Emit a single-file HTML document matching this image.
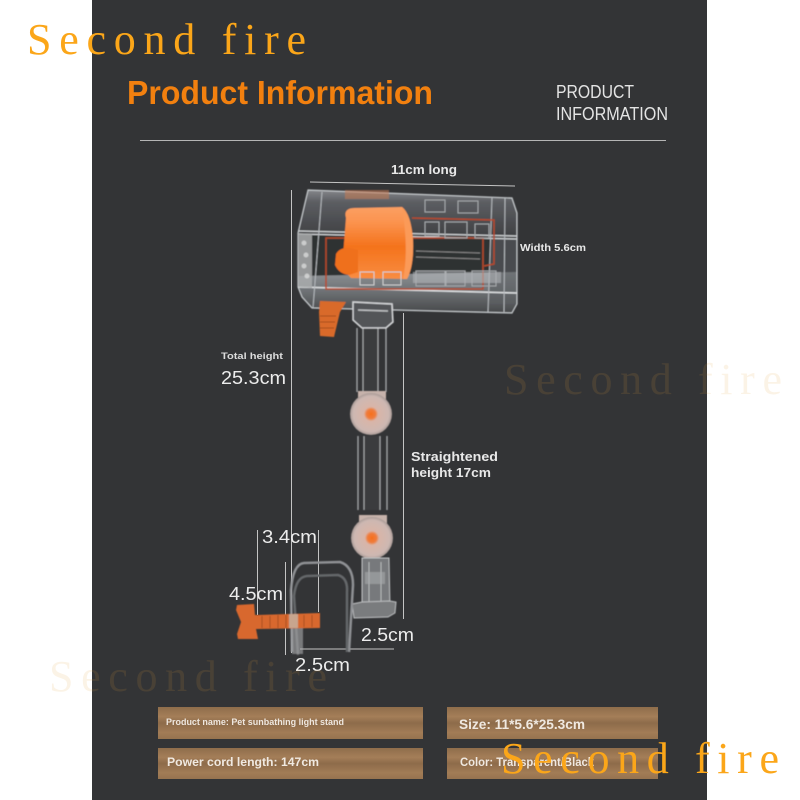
<!DOCTYPE html>
<html><head><meta charset="utf-8">
<style>
html,body{margin:0;padding:0;background:#fff}
svg{display:block}
text{font-family:"Liberation Sans",sans-serif}
.wm{font-family:"Liberation Serif",serif}
</style></head>
<body>
<svg width="800" height="800" viewBox="0 0 800 800" xmlns="http://www.w3.org/2000/svg">
<defs>
<linearGradient id="wood" x1="0" y1="0" x2="0" y2="1">
<stop offset="0" stop-color="#8f6d4b"/><stop offset=".3" stop-color="#a47e58"/><stop offset=".5" stop-color="#8d6b4a"/><stop offset=".8" stop-color="#a27c56"/><stop offset="1" stop-color="#96734f"/>
</linearGradient>
<linearGradient id="top" x1="0" y1="0" x2="0" y2="1">
<stop offset="0" stop-color="#85878b"/><stop offset=".25" stop-color="#5c5e62"/><stop offset="1" stop-color="#3e3f42"/>
</linearGradient>
<linearGradient id="low" x1="0" y1="0" x2="0" y2="1">
<stop offset="0" stop-color="#a4a9ad"/><stop offset=".5" stop-color="#7b7f83"/><stop offset="1" stop-color="#4c4e50"/>
</linearGradient>
<linearGradient id="orange" x1="0" y1="0" x2="0" y2="1">
<stop offset="0" stop-color="#fb9f62"/><stop offset=".2" stop-color="#fb9450"/><stop offset=".55" stop-color="#f4731c"/><stop offset="1" stop-color="#f98d42"/>
</linearGradient>
<radialGradient id="knob"><stop offset="0" stop-color="#f76f1c"/><stop offset=".22" stop-color="#ee7d3e"/><stop offset=".34" stop-color="#d9b5a8"/><stop offset=".85" stop-color="#cdb8b2"/><stop offset="1" stop-color="#a89a96"/></radialGradient>
<filter id="soft" x="-5%" y="-5%" width="110%" height="110%"><feGaussianBlur stdDeviation="0.6"/></filter>
</defs>
<rect width="800" height="800" fill="#fff"/>
<rect x="92" y="0" width="615" height="800" fill="#333436"/>

<!-- header -->
<text x="127" y="104" font-size="33" font-weight="bold" fill="#f2800f" textLength="306" lengthAdjust="spacingAndGlyphs">Product Information</text>
<text x="556" y="98" font-size="18" fill="#e4e4e4" textLength="78" lengthAdjust="spacingAndGlyphs">PRODUCT</text>
<text x="556" y="120" font-size="18" fill="#e4e4e4" textLength="112" lengthAdjust="spacingAndGlyphs">INFORMATION</text>
<rect x="140" y="140" width="526" height="1" fill="#b5b5b5"/>

<!-- dimension lines -->
<g stroke="#c4c4c4" stroke-width="1" fill="none">
<line x1="310" y1="182" x2="515" y2="186"/>
<line x1="291.500" y1="190" x2="291.500" y2="653"/>
<line x1="403.500" y1="313" x2="403.500" y2="619"/>
<line x1="257.500" y1="530" x2="257.500" y2="615"/>
<line x1="318.500" y1="530" x2="318.500" y2="612"/>
<line x1="285.500" y1="562" x2="285.500" y2="655"/>
<line x1="300" y1="649" x2="394" y2="649"/>
<line x1="506" y1="256" x2="514" y2="243"/>
</g>

<g filter="url(#soft)">
<!-- lamp box -->
<path d="M308 190 L512 198 L517 213 L517 304 L512 313 L312 308 L302 297 L298 287 L298 233 Z" fill="#2f3032"/>
<path d="M308 190 L512 198 L517 213 L517 238 L298 233 Z" fill="url(#top)"/>
<path d="M298 276 L517 272 L517 304 L512 313 L312 308 L302 297 L298 287 Z" fill="url(#low)" opacity=".8"/>
<path d="M490 236 L517 238 L517 304 L490 304 Z" fill="#5c5f62" opacity=".6"/>
<path d="M308 190 L512 198 L517 213 L517 304 L512 313 L312 308 L302 297 L298 287 L298 233 Z" fill="none" stroke="#c5c9cc" stroke-width="1.200"/>
<path d="M298 231 L517 236 M298 234 L517 239" stroke="#d3d6d8" stroke-width="1.200" fill="none"/>
<path d="M298 287 L517 293" stroke="#dfe1e3" stroke-width="1.500" fill="none"/>
<path d="M322 192 L313 308 M492 197 L488 312 M505 198 L504 312" stroke="#b8bcc0" stroke-width="1" fill="none"/>
<path d="M298 233 L312 234 L312 288 L298 287 Z" fill="#a9abad" opacity=".85"/>
<g fill="#e2e2e2" opacity=".7"><circle cx="304" cy="243" r="2.500"/><circle cx="306" cy="255" r="2.500"/><circle cx="304" cy="266" r="2.500"/><circle cx="307" cy="276" r="2.500"/></g>
<!-- inner red circuit -->
<g fill="none" stroke="#b8482a" stroke-width="1.500">
<rect x="326" y="238" width="157" height="51"/>
<path d="M412 218 L494 220 L494 264 L484 266"/>
</g>
<path d="M416 251 L480 253 M416 257 L480 259" stroke="#8a8a8a" fill="none"/>
<g fill="none" stroke="#a5a8ab" stroke-width="1">
<path d="M425 200h20v12h-20zM458 201h20v12h-20zM425 222h14v14h-14zM445 222h22v16h-22zM475 224h14v14h-14z"/>
<path d="M416 271h30v15h-30zM445 271h20v15h-20zM472 271h24v15h-24z"/>
</g>
<rect x="413" y="272" width="88" height="11" fill="#b0b4b7" opacity=".6"/>
<!-- orange drum -->
<path d="M346 218 Q343 208 355 208 L402 207 Q411 214 413 240 Q414 266 407 279 L351 278 L342 268 Z" fill="url(#orange)"/>
<path d="M402 207 Q411 214 413 240 Q414 266 407 279 L403 279 Q409 250 402 207 Z" fill="#fb9a58"/>
<path d="M336 254 Q340 247 350 248 L358 250 L358 272 L349 275 Q339 274 335 265 Z" fill="#ef6f1e"/>
<path d="M360 272h14v13h-14zM383 272h18v13h-18z" fill="none" stroke="#cfcfcf" stroke-width="1"/>
<rect x="345" y="190" width="44" height="9" fill="#c77a52" opacity=".55"/>
<!-- orange screw bottom -->
<path d="M320 301 L346 302 L340 312 L334 337 L320 336 L319 312 Z" fill="#d96a2a"/>
<path d="M320 316h16M320 322h15M320 328h14" stroke="#a84c17" stroke-width="1"/>
<!-- arm -->
<g stroke="#a9abad" fill="none" stroke-width="1.300">
<path d="M357 328V392M363 328V392M378 328V392M386 328V392"/>
<path d="M358 436V510M364 436V510M380 436V510M387 436V510"/>
</g>
<rect x="363" y="328" width="15" height="64" fill="#ffffff" opacity=".04"/>
<rect x="364" y="436" width="16" height="74" fill="#ffffff" opacity=".04"/>
<!-- arm coupler -->
<path d="M353 302 L392 304 L393 322 L386 328 L362 328 L353 320 Z" fill="#535558" stroke="#d4d6d8" stroke-width="1.500"/>
<path d="M358 310 L388 311" stroke="#bfc1c3" stroke-width="1.500"/>
<!-- joints -->
<rect x="358" y="391" width="28" height="8" fill="#c6b2ab"/>
<circle cx="371" cy="414" r="21" fill="url(#knob)"/>
<rect x="359" y="515" width="28" height="8" fill="#c6b2ab"/>
<circle cx="372" cy="538" r="21" fill="url(#knob)"/>
<!-- lower tube -->
<path d="M362 558 L389 558 L390 608 L362 608 Z" fill="#77797b" stroke="#c0c2c4"/>
<path d="M369 562V606M381 562V606" stroke="#b7b9bb"/>
<rect x="365" y="572" width="20" height="12" fill="#a9abad" opacity=".6"/>
<path d="M352 604 L362 602 L390 601 L396 602 L395 613 L388 617 L354 618 Z" fill="#7a7c7e" stroke="#bcbec0"/>
<!-- clamp -->
<g fill="none" stroke="#8f9194" stroke-width="2.500">
<path d="M292 652 L291 590 Q293 564 304 563 L340 562 Q353 566 353 585 L349 652"/>
</g>
<g fill="none" stroke="#65676a" stroke-width="2.500">
<path d="M298 655 L294 596 Q296 577 307 576 L338 575 Q348 578 347 592 L347 652"/>
</g>
<rect x="292" y="625" width="11" height="29" fill="#a6a8aa" opacity=".6"/>
<!-- thumb screw -->
<path d="M237 605 L254 604 L255 615 L258 615 L320 613 L320 628 L258 629 L256 629 L258 639 L238 639 L237 634 L241 622 L236 610 Z" fill="#d8682d"/>
<path d="M262 616V628M270 616V628M278 615V628M286 615V628M304 615V627M312 615V627" stroke="#a9501f" stroke-width="1"/>
<rect x="289" y="614" width="9" height="14" fill="#c8a58e"/>
</g>

<!-- labels -->
<text x="391" y="174" font-size="12.500" font-weight="bold" fill="#e8e8e8" textLength="66" lengthAdjust="spacingAndGlyphs">11cm long</text>
<text x="520" y="251" font-size="10.500" font-weight="bold" fill="#e8e8e8" textLength="66" lengthAdjust="spacingAndGlyphs">Width 5.6cm</text>
<text x="221" y="359" font-size="9.500" font-weight="bold" fill="#dcdcdc" textLength="62" lengthAdjust="spacingAndGlyphs">Total height</text>
<text x="221" y="384" font-size="18" fill="#ececec" textLength="65" lengthAdjust="spacingAndGlyphs">25.3cm</text>
<text x="411" y="461" font-size="12.500" font-weight="bold" fill="#e8e8e8" textLength="87" lengthAdjust="spacingAndGlyphs">Straightened</text>
<text x="411" y="477" font-size="12.500" font-weight="bold" fill="#e8e8e8" textLength="80" lengthAdjust="spacingAndGlyphs">height 17cm</text>
<text x="262" y="543" font-size="18" fill="#ececec" textLength="55" lengthAdjust="spacingAndGlyphs">3.4cm</text>
<text x="229" y="600" font-size="18" fill="#ececec" textLength="54" lengthAdjust="spacingAndGlyphs">4.5cm</text>
<text x="361" y="641" font-size="18" fill="#ececec" textLength="53" lengthAdjust="spacingAndGlyphs">2.5cm</text>
<text x="295" y="671" font-size="18" fill="#ececec" textLength="55" lengthAdjust="spacingAndGlyphs">2.5cm</text>

<!-- wood bars -->
<rect x="158" y="707" width="265" height="32" fill="url(#wood)"/>
<rect x="158" y="748" width="265" height="31" fill="url(#wood)"/>
<rect x="447" y="707" width="211" height="32" fill="url(#wood)"/>
<rect x="447" y="748" width="211" height="31" fill="url(#wood)"/>
<text x="166" y="725" font-size="9" font-weight="bold" fill="#eee7df" textLength="178" lengthAdjust="spacingAndGlyphs">Product name: Pet sunbathing light stand</text>
<text x="167" y="766" font-size="12" font-weight="bold" fill="#f0e9e1" textLength="152" lengthAdjust="spacingAndGlyphs">Power cord length: 147cm</text>
<text x="459" y="729" font-size="14" font-weight="bold" fill="#f0e9e1" textLength="126" lengthAdjust="spacingAndGlyphs">Size: 11*5.6*25.3cm</text>
<text x="460" y="766" font-size="11.500" font-weight="bold" fill="#f0e9e1" textLength="134" lengthAdjust="spacingAndGlyphs">Color: Transparent/Black</text>

<!-- watermarks -->
<text class="wm" x="27" y="54" font-size="44" fill="#fba619" textLength="279" lengthAdjust="spacing">Second fire</text>
<text class="wm" x="501" y="773" font-size="44" fill="#fba619" textLength="278" lengthAdjust="spacing">Second fire</text>
<text class="wm" x="504" y="394" font-size="44" fill="#e6a23c" opacity=".12" textLength="278" lengthAdjust="spacing">Second fire</text>
<text class="wm" x="49" y="691" font-size="44" fill="#e6a23c" opacity=".12" textLength="278" lengthAdjust="spacing">Second fire</text>
</svg>
</body></html>
